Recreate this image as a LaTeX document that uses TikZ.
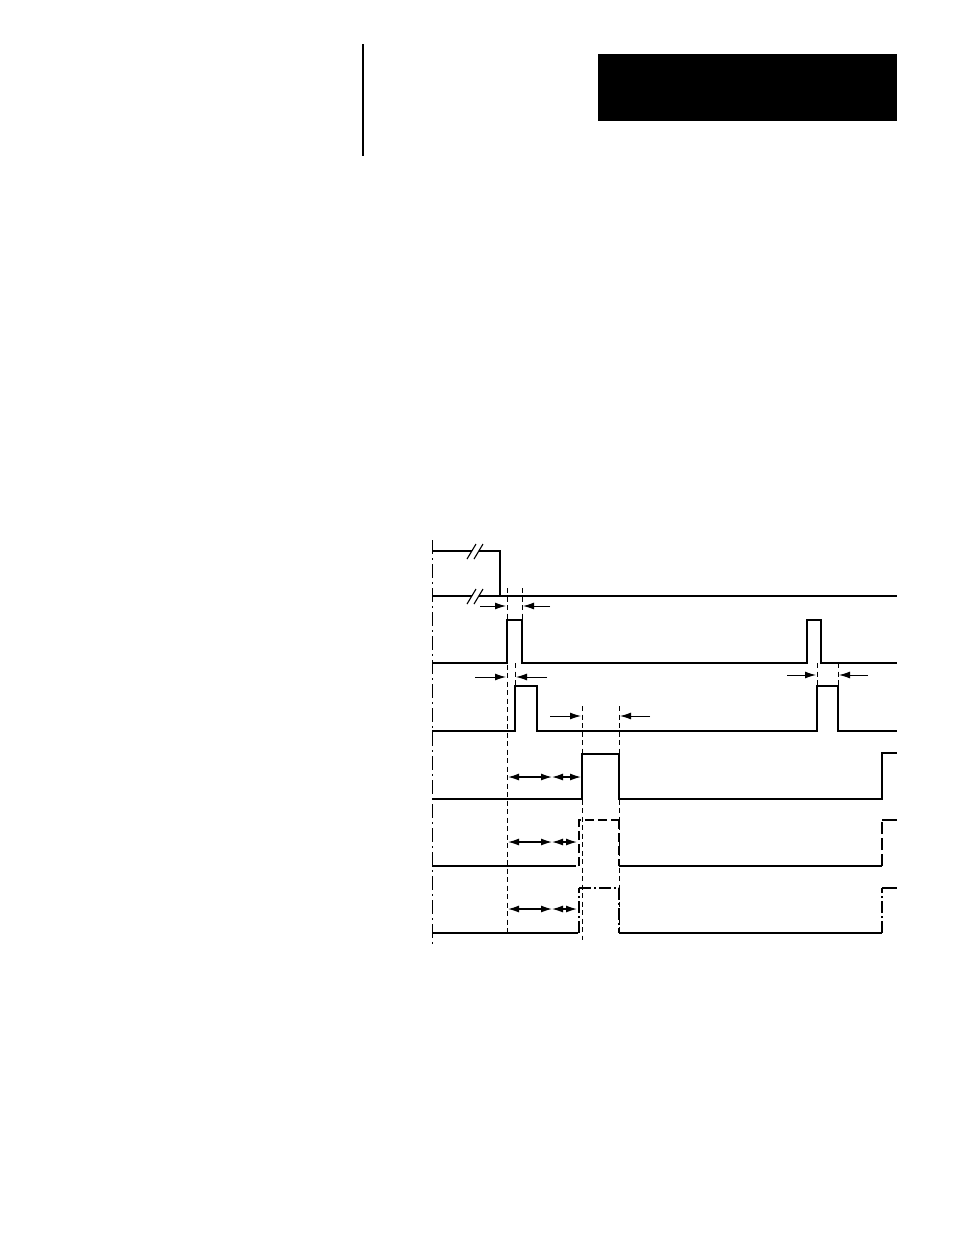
\documentclass[tikz,border=0pt]{standalone}
\usetikzlibrary{arrows,arrows.meta,positioning,calc}
\tikzset{>=latex}
\tikzstyle{signal}=[line width=1.6pt]

\begin{document}
\begin{tikzpicture}[x=1pt, y=-1pt, guide/.style={line width=0.8pt, dash pattern=on 5pt off 3.5pt}, axisline/.style={line width=1pt, dash pattern=on 14pt off 4pt on 2pt off 4pt}, timemark/.style={-{Latex[length=11pt,width=7pt]}, line width=1pt}, span/.style={{Latex[length=11pt,width=7pt]}-{Latex[length=11pt,width=7pt]}, line width=1.3pt}, thinsig/.style={line width=1.1pt}]

    \useasboundingbox (0,0) rectangle (954,1235);

    % Header
    \draw[line width=2.6pt] (363,44) -- (363,156);
    \fill (598,54) rectangle (897,121);

    % Time axis
    \draw[axisline] (432,540) -- (432,945);

    % Guide lines
    \draw[guide] (507,588) -- (507,933);
    \draw[guide] (522,588) -- (522,620);
    \draw[guide] (515,663) -- (515,686);
    \draw[guide] (582,706) -- (582,940);
    \draw[guide] (619,706) -- (619,933);
    \draw[guide] (817,663) -- (817,686);
    \draw[guide] (838,663) -- (838,686);

    % Signal 1
    \draw[signal] (432,551) -- (472,551);
    \draw[signal] (479,551) -- (500,551) -- (500,596);
    \draw[thinsig] (467,559) -- (476,544);
    \draw[thinsig] (474,559) -- (483,544);

    % Signal 2
    \draw[signal] (432,596) -- (472,596);
    \draw[signal] (479,596) -- (897,596);
    \draw[thinsig] (467,604) -- (476,589);
    \draw[thinsig] (474,604) -- (483,589);

    % Signal 3
    \draw[signal] (432,663) -- (507,663) -- (507,620) -- (522,620) -- (522,663) -- (807,663) -- (807,620) -- (821,620) -- (821,663) -- (897,663);

    % Signal 4
    \draw[signal] (432,731) -- (515,731) -- (515,686) -- (537,686) -- (537,731) -- (817,731) -- (817,686) -- (838,686) -- (838,731) -- (897,731);

    % Signal 5
    \draw[signal] (432,799) -- (582,799) -- (582,754) -- (619,754) -- (619,799) -- (882,799) -- (882,753) -- (897,753);

    % Signal 6
    \draw[thinsig] (432,866) -- (576,866);
    \draw[signal, dash pattern=on 9pt off 4pt] (579,866) -- (579,820) -- (619,820);
    \draw[thinsig, dash pattern=on 9pt off 4pt] (619,820) -- (619,866);
    \draw[thinsig] (619,866) -- (882,866);
    \draw[signal, dash pattern=on 12pt off 4pt] (882,866) -- (882,820);
    \draw[signal] (882,820) -- (897,820);

    % Signal 7
    \draw[signal] (432,933) -- (578,933);
    \draw[signal, dash pattern=on 12pt off 3pt on 2pt off 3pt] (579,933) -- (579,888);
    \draw[thinsig, dash pattern=on 12pt off 3pt on 2pt off 3pt] (579,888) -- (619,888) -- (619,933);
    \draw[signal] (619,933) -- (882,933);
    \draw[signal, dash pattern=on 12pt off 3pt on 2pt off 3pt] (882,933) -- (882,888);
    \draw[signal] (882,888) -- (897,888);

    % Timing marks
    \draw[timemark] (480,606) -- (506,606);
    \draw[timemark] (550,606) -- (523,606);
    \draw[timemark] (475,677) -- (506,677);
    \draw[timemark] (547,677) -- (516,677);
    \draw[timemark] (550,716) -- (581,716);
    \draw[timemark] (650,716) -- (620,716);
    \draw[timemark] (787,675) -- (816,675);
    \draw[timemark] (868,675) -- (839,675);

    % Delay spans
    \draw[span] (508,777) -- (552,777);
    \draw[span] (552,777) -- (581,777);
    \draw[span] (508,842) -- (552,842);
    \draw[span] (552,842) -- (577,842);
    \draw[span] (508,909) -- (552,909);
    \draw[span] (552,909) -- (577,909);
\end{tikzpicture}
\end{document}
